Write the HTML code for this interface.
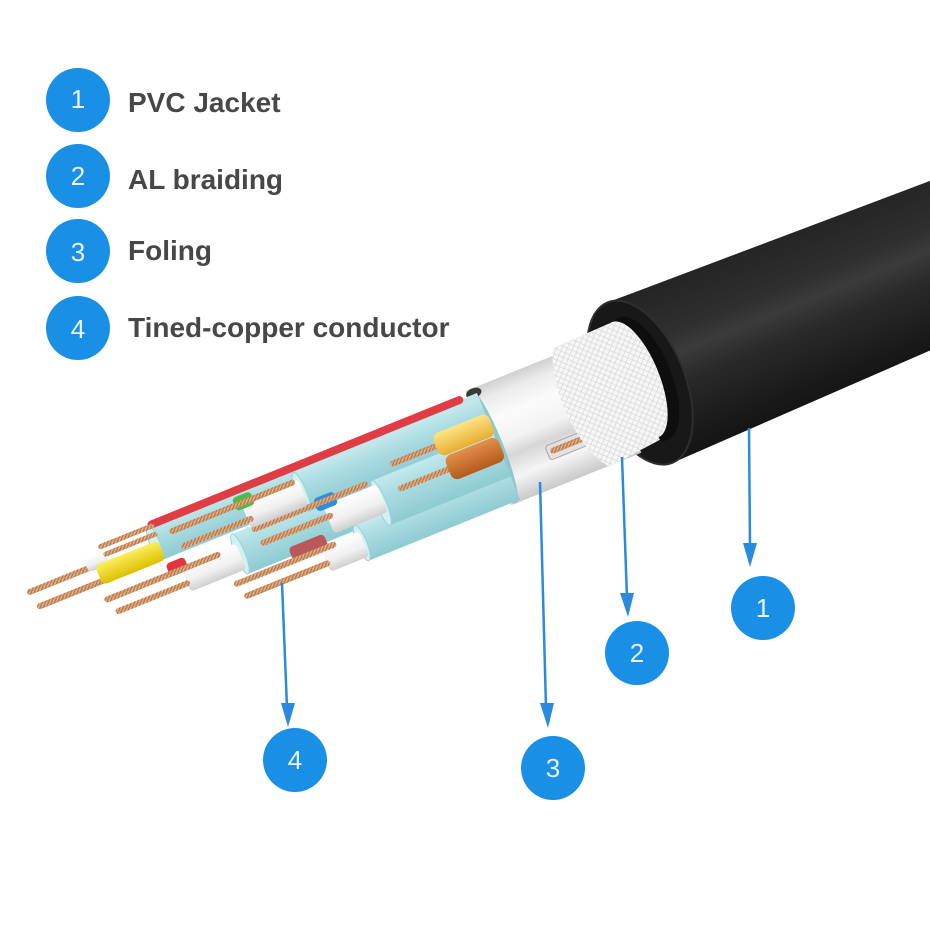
<!DOCTYPE html>
<html><head><meta charset="utf-8"><style>
html,body{margin:0;padding:0;background:#fff;}
svg{display:block;}
</style></head><body>
<svg width="930" height="930" viewBox="0 0 930 930" xmlns="http://www.w3.org/2000/svg">
<defs>
 <linearGradient id="jk" x1="0" y1="0" x2="0" y2="1">
  <stop offset="0" stop-color="#242424"/>
  <stop offset="0.3" stop-color="#2f2f2f"/>
  <stop offset="0.42" stop-color="#3b3b3b"/>
  <stop offset="0.58" stop-color="#2a2a2a"/>
  <stop offset="0.85" stop-color="#1b1b1b"/>
  <stop offset="1" stop-color="#141414"/>
 </linearGradient>
 <linearGradient id="gb" x1="0" y1="0" x2="0" y2="1">
  <stop offset="0" stop-color="#c4e9ed"/>
  <stop offset="0.35" stop-color="#acdde2"/>
  <stop offset="1" stop-color="#8ecbd2"/>
 </linearGradient>
 <linearGradient id="foil" x1="0" y1="0" x2="0" y2="1">
  <stop offset="0" stop-color="#d0d0d0"/>
  <stop offset="0.12" stop-color="#ececec"/>
  <stop offset="0.3" stop-color="#fbfbfb"/>
  <stop offset="0.5" stop-color="#f2f2f2"/>
  <stop offset="0.62" stop-color="#d6d6d6"/>
  <stop offset="0.8" stop-color="#f5f5f5"/>
  <stop offset="1" stop-color="#c9c9c9"/>
 </linearGradient>
 <linearGradient id="wh" x1="0" y1="0" x2="0" y2="1">
  <stop offset="0" stop-color="#ffffff"/>
  <stop offset="0.6" stop-color="#f0f0f0"/>
  <stop offset="1" stop-color="#cfcfcf"/>
 </linearGradient>
 <linearGradient id="yl" x1="0" y1="0" x2="0" y2="1">
  <stop offset="0" stop-color="#fde488"/>
  <stop offset="1" stop-color="#e8ae30"/>
 </linearGradient>
 <linearGradient id="or" x1="0" y1="0" x2="0" y2="1">
  <stop offset="0" stop-color="#e2904a"/>
  <stop offset="1" stop-color="#b45a1c"/>
 </linearGradient>
 <linearGradient id="yy" x1="0" y1="0" x2="0" y2="1">
  <stop offset="0" stop-color="#fbee60"/>
  <stop offset="1" stop-color="#dcc000"/>
 </linearGradient>
 <pattern id="tw" width="4" height="4" patternUnits="userSpaceOnUse">
  <rect width="4" height="4" fill="#d9a074"/>
  <path d="M0,4 L4,0" stroke="#a56a42" stroke-width="0.9"/>
  <path d="M-1,3 L3,-1" stroke="#f3cda6" stroke-width="0.6"/>
 </pattern>
 <pattern id="mesh" width="7" height="7" patternUnits="userSpaceOnUse">
  <rect width="7" height="7" fill="#f6f6f6"/>
  <path d="M0,0 L7,7 M7,0 L0,7" stroke="#d0d0d0" stroke-width="0.6"/>
 </pattern>
</defs>

<!-- Cable drawing in rotated local coordinates -->
<g transform="rotate(-22)">
 <!-- jacket -->
 <path d="M450,508 L1000,521 L1000,666 L452,681 Z" fill="url(#jk)"/>
 <ellipse cx="450" cy="594.5" rx="45" ry="86.5" fill="#181818" stroke="#2e2e2e" stroke-width="2"/>
 <ellipse cx="454" cy="592" rx="29" ry="66" fill="#0e0e0e"/>
 <ellipse cx="447" cy="590" rx="24" ry="62" fill="url(#mesh)"/>

 <!-- foil -->
 <rect x="285" y="537" width="140" height="123" fill="url(#foil)"/>
 <rect x="338" y="618" width="70" height="15" rx="3" fill="#e2e2e2" stroke="#a8a8a8" stroke-width="1"/>
 <rect x="341" y="622" width="62" height="6" rx="3" fill="url(#tw)"/>

 <!-- braid -->
 <path d="M382,530 C366,560 364,628 390,661 L447,655 L447,528 Z" fill="url(#mesh)"/>

 <!-- foil end -->
 <ellipse cx="290" cy="598.5" rx="10" ry="61.5" fill="#8fc7ce"/>
 <ellipse cx="292" cy="542" rx="8" ry="5" fill="#3a3a3a"/>

 <!-- cable bodies -->
 <rect x="-60" y="543" width="355" height="37" fill="url(#gb)"/>
 <ellipse cx="-60" cy="561.5" rx="5" ry="18.5" fill="#d2eff1" stroke="#9cd0d6" stroke-width="1"/>
 <rect x="-60" y="539" width="340" height="8" rx="4" fill="#e03c44"/>

 <rect x="15" y="582" width="280" height="43" fill="url(#gb)"/>
 <ellipse cx="15" cy="603.5" rx="5" ry="21.5" fill="#d2eff1" stroke="#9cd0d6" stroke-width="1"/>

 <rect x="132" y="620" width="163" height="38" fill="url(#gb)"/>
 <ellipse cx="132" cy="639" rx="5" ry="19" fill="#d2eff1" stroke="#9cd0d6" stroke-width="1"/>

 <rect x="95" y="548" width="200" height="42" fill="url(#gb)"/>
 <ellipse cx="95" cy="569" rx="5" ry="21" fill="#d2eff1" stroke="#9cd0d6" stroke-width="1"/>

 <rect x="165" y="585" width="130" height="48" fill="url(#gb)"/>
 <ellipse cx="165" cy="609" rx="5" ry="24" fill="#d2eff1" stroke="#9cd0d6" stroke-width="1"/>

 <!-- O pair -->
 <rect x="188" y="574" width="58" height="6" rx="3" fill="url(#tw)"/>
 <rect x="186" y="600" width="62" height="6" rx="3" fill="url(#tw)"/>
 <rect x="237" y="565" width="60" height="24" rx="7" fill="url(#yl)"/>
 <rect x="240" y="590" width="57" height="26" rx="7" fill="url(#or)"/>

 <!-- B pair -->
 <rect x="110" y="590" width="58" height="30" rx="4" fill="url(#wh)"/>
 <rect x="103" y="580" width="22" height="14" rx="4" fill="#2b8fe0"/>
 <rect x="35" y="583" width="125" height="6" rx="3" fill="url(#tw)"/>
 <rect x="38" y="599" width="78" height="6" rx="3" fill="url(#tw)"/>

 <!-- Br pair -->
 <rect x="92" y="627" width="42" height="27" rx="4" fill="url(#wh)"/>
 <rect x="62" y="616" width="38" height="16" rx="4" fill="#b9575a"/>
 <rect x="-2" y="627" width="110" height="6" rx="3" fill="url(#tw)"/>
 <rect x="3" y="642" width="92" height="6" rx="3" fill="url(#tw)"/>

 <!-- G pair -->
 <rect x="35" y="556" width="62" height="28" rx="4" fill="url(#wh)"/>
 <rect x="28" y="549" width="20" height="14" rx="4" fill="#4dbb45"/>
 <rect x="-42" y="554" width="135" height="6" rx="3" fill="url(#tw)"/>
 <rect x="-37" y="572" width="78" height="6" rx="3" fill="url(#tw)"/>

 <!-- R pair -->
 <rect x="-45" y="592" width="60" height="28" rx="4" fill="url(#wh)"/>
 <rect x="-58" y="585" width="20" height="14" rx="4" fill="#e2353b"/>
 <rect x="-128" y="593" width="125" height="6" rx="3" fill="url(#tw)"/>
 <rect x="-122" y="608" width="80" height="6" rx="3" fill="url(#tw)"/>

 <!-- Y pair -->
 <rect x="-197" y="557" width="82" height="6" rx="3" fill="url(#tw)"/>
 <rect x="-193" y="574" width="78" height="6" rx="3" fill="url(#tw)"/>
 <rect x="-132" y="549" width="22" height="15" rx="4" fill="url(#wh)"/>
 <rect x="-114" y="542" width="60" height="5" rx="2.5" fill="url(#tw)"/>
 <rect x="-112" y="551" width="58" height="5" rx="2.5" fill="url(#tw)"/>
 <rect x="-124" y="560" width="68" height="21" rx="5" fill="url(#yy)"/>
</g>

<!-- arrows -->
<g stroke="#2a8ae0" stroke-width="2.5" fill="none">
 <line x1="749" y1="428" x2="750" y2="548"/>
 <line x1="622" y1="457" x2="627" y2="598"/>
 <line x1="540" y1="482" x2="546" y2="708"/>
 <line x1="282" y1="583" x2="287" y2="708"/>
</g>
<g fill="#2a8ae0">
 <polygon points="743,543 757,543 750,567"/>
 <polygon points="620,593 634,593 628,617"/>
 <polygon points="540,703 554,703 548,728"/>
 <polygon points="281,703 295,703 288,727"/>
</g>

<!-- bottom circles -->
<g fill="#1a8fe6">
 <circle cx="763" cy="608" r="32"/>
 <circle cx="637" cy="653" r="32"/>
 <circle cx="553" cy="768" r="32"/>
 <circle cx="295" cy="760" r="32"/>
</g>
<g font-family="'Liberation Sans', sans-serif" font-size="26" fill="#eaf3fc" text-anchor="middle">
 <text x="763" y="617">1</text>
 <text x="637" y="662">2</text>
 <text x="553" y="777">3</text>
 <text x="295" y="769">4</text>
</g>

<!-- legend -->
<g fill="#1a8fe6">
 <circle cx="78" cy="100" r="32"/>
 <circle cx="78" cy="176" r="32"/>
 <circle cx="78" cy="251" r="32"/>
 <circle cx="78" cy="328" r="32"/>
</g>
<g font-family="'Liberation Sans', sans-serif" font-size="26" fill="#eaf3fc" text-anchor="middle">
 <text x="78" y="108">1</text>
 <text x="78" y="185">2</text>
 <text x="78" y="261">3</text>
 <text x="78" y="338">4</text>
</g>
<g font-family="'Liberation Sans', sans-serif" font-size="28" font-weight="bold" fill="#474747">
 <text x="128" y="112">PVC Jacket</text>
 <text x="128" y="189">AL braiding</text>
 <text x="128" y="260">Foling</text>
 <text x="128" y="337">Tined-copper conductor</text>
</g>
</svg>
</body></html>
